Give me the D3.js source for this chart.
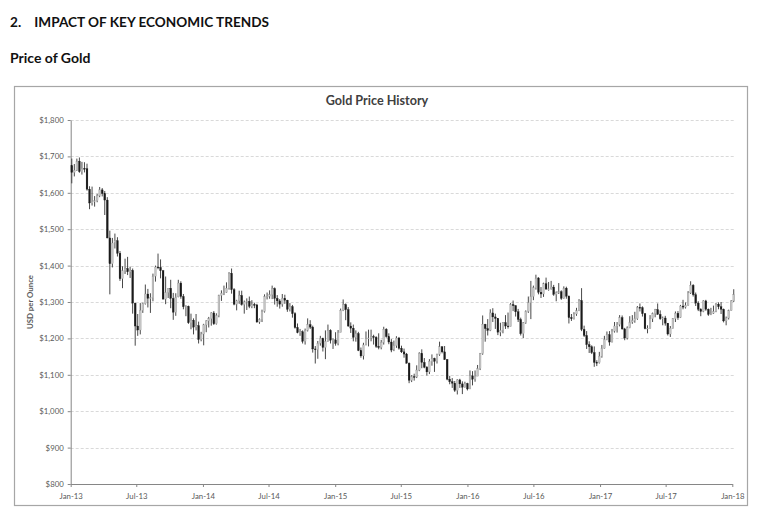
<!DOCTYPE html>
<html>
<head>
<meta charset="utf-8">
<script src="https://cdn.jsdelivr.net/npm/d3@7"></script>
<style>
  body { margin: 0; background: #fff; }
  text { font-family: Lato, "Open Sans", sans-serif; }
</style>
</head>
<body>
<svg id="chart" width="760" height="510"></svg>
<script>
// weekly candles, one row per Friday: [open, high, low, close]
var weeks2013 = [
  [1675,1694,1626,1656],[1656,1679,1645,1662],[1662,1694,1660,1687],[1687,1697,1655,1658],
  [1658,1685,1650,1667],[1667,1684,1656,1666],[1666,1680,1606,1610],[1610,1618,1555,1572],
  [1572,1617,1565,1576],[1576,1591,1562,1578],[1578,1597,1574,1592],[1592,1616,1588,1608],
  [1608,1613,1590,1598],[1598,1605,1539,1580],[1580,1588,1475,1476],[1476,1496,1321,1405],
  [1405,1476,1395,1462],[1462,1488,1447,1468],[1468,1478,1425,1434],[1434,1440,1358,1364],
  [1364,1398,1338,1386],[1386,1419,1377,1392],[1392,1424,1374,1383],[1383,1397,1366,1387],
  [1387,1392,1268,1297],[1297,1298,1180,1234],[1234,1267,1207,1223],[1223,1297,1211,1277],
  [1277,1298,1270,1295],[1295,1348,1293,1322],[1322,1336,1285,1310],[1310,1324,1270,1312],
  [1312,1378,1302,1371],[1371,1400,1356,1396],[1396,1433,1390,1395],[1395,1417,1365,1386],
  [1386,1388,1307,1308],[1308,1370,1294,1326],[1326,1338,1311,1338],[1338,1361,1283,1310],
  [1310,1325,1251,1272],[1272,1324,1262,1314],[1314,1361,1313,1352],[1352,1357,1309,1315],
  [1315,1322,1280,1287],[1287,1291,1261,1288],[1288,1290,1240,1243],[1243,1268,1225,1250],
  [1250,1255,1211,1231],[1231,1267,1222,1235],[1235,1246,1186,1197],[1197,1218,1192,1212]
];
var weeks2014 = [
  [1212,1240,1181,1237],[1237,1250,1217,1248],[1248,1259,1230,1254],[1254,1272,1235,1270],
  [1270,1275,1237,1240],[1240,1269,1238,1263],[1263,1320,1258,1318],[1318,1332,1303,1324],
  [1324,1345,1319,1326],[1326,1354,1325,1338],[1338,1382,1334,1379],[1379,1392,1323,1334],
  [1334,1338,1291,1294],[1294,1306,1277,1303],[1303,1331,1295,1318],[1318,1331,1290,1293],
  [1293,1304,1268,1300],[1300,1310,1278,1302],[1302,1315,1283,1288],[1288,1305,1283,1293],
  [1293,1298,1283,1292],[1292,1295,1243,1245],[1245,1255,1240,1252],[1252,1279,1245,1274],
  [1274,1321,1271,1315],[1315,1326,1307,1316],[1316,1332,1309,1320],[1320,1345,1308,1337],
  [1337,1340,1293,1310],[1310,1319,1287,1303],[1303,1308,1282,1294],[1294,1322,1287,1310],
  [1310,1320,1295,1305],[1305,1306,1273,1280],[1280,1297,1274,1287],[1287,1292,1257,1268],
  [1268,1272,1227,1230],[1230,1241,1214,1216],[1216,1226,1207,1218],[1218,1222,1186,1192],
  [1192,1227,1183,1222],[1222,1255,1219,1238],[1238,1250,1226,1231],[1231,1235,1161,1171],
  [1171,1179,1131,1169],[1169,1193,1144,1187],[1187,1207,1180,1200],[1200,1202,1164,1175],
  [1175,1222,1143,1192],[1192,1238,1191,1222],[1222,1225,1186,1195],[1195,1200,1171,1196]
];
var weeks2015 = [
  [1196,1217,1180,1186],[1186,1223,1181,1216],[1216,1282,1217,1277],[1277,1307,1275,1293],
  [1293,1296,1250,1279],[1279,1286,1232,1234],[1234,1244,1215,1228],[1228,1238,1192,1203],
  [1203,1222,1191,1213],[1213,1218,1165,1167],[1167,1175,1147,1152],[1152,1188,1142,1182],
  [1182,1219,1181,1199],[1199,1224,1178,1201],[1201,1224,1192,1205],[1205,1210,1183,1203],
  [1203,1206,1174,1178],[1178,1214,1170,1175],[1175,1196,1170,1189],[1189,1232,1183,1225],
  [1225,1228,1202,1205],[1205,1214,1184,1190],[1190,1198,1162,1168],[1168,1194,1165,1180],
  [1180,1206,1174,1201],[1201,1204,1169,1173],[1173,1180,1160,1163],[1163,1172,1147,1157],
  [1157,1160,1131,1132],[1132,1134,1077,1085],[1085,1099,1080,1095],[1095,1103,1084,1094],
  [1094,1126,1091,1113],[1113,1162,1110,1159],[1159,1170,1118,1134],[1134,1146,1118,1121],
  [1121,1124,1098,1108],[1108,1143,1102,1137],[1137,1156,1125,1145],[1145,1147,1108,1137],
  [1137,1158,1131,1156],[1156,1191,1152,1177],[1177,1178,1159,1163],[1163,1179,1141,1142],
  [1142,1143,1085,1088],[1088,1097,1074,1081],[1081,1091,1064,1077],[1077,1083,1053,1057],
  [1057,1088,1046,1086],[1086,1089,1064,1075],[1075,1082,1047,1066],[1066,1081,1065,1076]
];
var weeks2016 = [
  [1076,1078,1057,1061],[1061,1112,1062,1097],[1097,1110,1071,1088],[1088,1112,1081,1096],
  [1096,1127,1097,1117],[1117,1160,1113,1158],[1158,1263,1155,1239],[1239,1240,1191,1227],
  [1227,1253,1208,1222],[1222,1280,1220,1270],[1270,1283,1245,1259],[1259,1268,1226,1255],
  [1255,1256,1209,1217],[1217,1243,1206,1222],[1222,1245,1214,1243],[1243,1264,1226,1234],
  [1234,1271,1227,1232],[1232,1297,1233,1293],[1293,1304,1275,1290],[1290,1291,1260,1273],
  [1273,1281,1245,1252],[1252,1257,1208,1213],[1213,1245,1201,1243],[1243,1277,1240,1274],
  [1274,1315,1270,1298],[1298,1358,1253,1315],[1315,1345,1305,1339],[1339,1375,1334,1366],
  [1366,1368,1321,1327],[1327,1341,1311,1322],[1322,1353,1314,1350],[1350,1367,1336,1335],
  [1335,1355,1331,1336],[1336,1358,1334,1341],[1341,1347,1317,1321],[1321,1329,1302,1326],
  [1326,1352,1322,1328],[1328,1332,1306,1310],[1310,1343,1309,1338],[1338,1342,1309,1316],
  [1316,1318,1241,1257],[1257,1267,1248,1254],[1254,1272,1252,1267],[1267,1284,1262,1276],
  [1276,1308,1275,1304],[1304,1338,1220,1225],[1225,1235,1204,1208],[1208,1220,1171,1183],
  [1183,1192,1160,1177],[1177,1181,1157,1161],[1161,1178,1122,1134],[1134,1140,1124,1133],
  [1133,1163,1131,1151]
];
var weeks2017 = [
  [1151,1182,1147,1173],[1173,1207,1172,1197],[1197,1219,1195,1210],[1210,1220,1180,1190],
  [1190,1226,1189,1220],[1220,1245,1216,1234],[1234,1245,1216,1238],[1238,1264,1233,1257],
  [1257,1263,1224,1226],[1226,1229,1195,1201],[1201,1233,1197,1229],[1229,1261,1228,1245],
  [1245,1264,1240,1249],[1249,1273,1243,1254],[1254,1289,1251,1285],[1285,1296,1274,1284],
  [1284,1288,1260,1268],[1268,1269,1225,1227],[1227,1236,1214,1228],[1228,1264,1227,1254],
  [1254,1271,1245,1268],[1268,1281,1258,1279],[1279,1296,1265,1266],[1266,1277,1251,1254],
  [1254,1260,1236,1256],[1256,1262,1235,1242],[1242,1242,1208,1212],[1212,1234,1204,1228],
  [1228,1256,1227,1254],[1254,1274,1245,1269],[1269,1275,1251,1257],[1257,1292,1256,1289],
  [1289,1306,1280,1286],[1286,1299,1282,1291],[1291,1330,1290,1325],[1325,1357,1322,1346],
  [1346,1349,1315,1320],[1320,1326,1289,1297],[1297,1302,1275,1280],[1280,1283,1261,1274],
  [1274,1305,1272,1303],[1303,1306,1276,1280],[1280,1282,1262,1266],[1266,1284,1264,1269],
  [1269,1290,1267,1274],[1274,1297,1272,1294],[1294,1299,1280,1287],[1287,1300,1267,1280],
  [1280,1282,1244,1248],[1248,1260,1236,1256],[1256,1279,1252,1276],[1276,1305,1276,1303]
];
var weeks2018 = [
  [1303,1335,1300,1320]
];

var yTicks = [800, 900, 1000, 1100, 1200, 1300, 1400, 1500, 1600, 1700, 1800];
var xTickLabels = ["Jan-13", "Jul-13", "Jan-14", "Jul-14", "Jan-15", "Jul-15",
                   "Jan-16", "Jul-16", "Jan-17", "Jul-17", "Jan-18"];

function buildCandles() {
  var byYear = [[2013, weeks2013], [2014, weeks2014], [2015, weeks2015],
                [2016, weeks2016], [2017, weeks2017], [2018, weeks2018]];
  var candles = [];
  byYear.forEach(([yr, rows]) => {
    var fridays = d3.timeFriday.range(new Date(yr, 0, 1), new Date(yr + 1, 0, 1));
    rows.forEach((r, i) => {
      candles.push({ date: fridays[i], open: r[0], high: r[1], low: r[2], close: r[3] });
    });
  });
  return candles;
}

function drawChart() {
  var svg = d3.select("#chart");
  var candles = buildCandles();
  var parseTick = d3.timeParse("%b-%y");
  var tickDates = xTickLabels.map(parseTick);

  // page headings
  svg.append("text")
    .attr("x", 10).attr("y", 27)
    .attr("font-size", 13.6).attr("font-weight", "bold").attr("fill", "#111")
    .attr("xml:space", "preserve")
    .text("2.    IMPACT OF KEY ECONOMIC TRENDS");
  svg.append("text")
    .attr("x", 10).attr("y", 63)
    .attr("font-size", 14).attr("font-weight", "bold").attr("fill", "#111")
    .text("Price of Gold");

  // chart frame
  svg.append("rect")
    .attr("x", 14.5).attr("y", 86.5)
    .attr("width", 733).attr("height", 419)
    .attr("fill", "#fff").attr("stroke", "#a6a6a6").attr("stroke-width", 1.2);

  svg.append("text")
    .attr("x", 377).attr("y", 105)
    .attr("text-anchor", "middle")
    .attr("font-size", 12.6).attr("font-weight", "bold").attr("fill", "#404040")
    .text("Gold Price History");

  var x = d3.scaleTime()
    .domain([tickDates[0], tickDates[tickDates.length - 1]])
    .range([70.7, 732.3]);
  var y = d3.scaleLinear()
    .domain([yTicks[0], yTicks[yTicks.length - 1]])
    .range([484, 120]);

  // dashed gridlines
  svg.append("g")
    .selectAll("line")
    .data(yTicks.slice(1))
    .join("line")
    .attr("x1", x.range()[0]).attr("x2", 735)
    .attr("y1", d => Math.round(y(d)) + 0.5).attr("y2", d => Math.round(y(d)) + 0.5)
    .attr("stroke", "#d9d9d9").attr("stroke-dasharray", "3,2");

  // axes
  var yAxis = svg.append("g")
    .attr("transform", "translate(" + x.range()[0] + ",0)")
    .call(d3.axisLeft(y).tickValues(yTicks).tickFormat(d3.format("$,")).tickSize(3).tickSizeOuter(0));
  var xAxis = svg.append("g")
    .attr("transform", "translate(0," + y.range()[0] + ")")
    .call(d3.axisBottom(x).tickValues(tickDates).tickFormat((d, i) => xTickLabels[i]).tickSize(3).tickSizeOuter(0));

  [yAxis, xAxis].forEach(g => {
    g.selectAll("path, line").attr("stroke", "#868686");
    g.selectAll("text").attr("fill", "#595959").attr("font-size", 7.8)
      .style("font-family", "Lato, sans-serif");
  });
  yAxis.selectAll("text").attr("x", -7);
  xAxis.selectAll("text").attr("y", 9);

  svg.append("text")
    .attr("transform", "translate(33,302) rotate(-90)")
    .attr("text-anchor", "middle")
    .attr("font-size", 7.8).attr("font-weight", "bold").attr("fill", "#595959")
    .text("USD per Ounce");

  // candles
  var bodyW = 1.8;
  var g = svg.append("g");
  g.selectAll("line.wick")
    .data(candles)
    .join("line")
    .attr("class", "wick")
    .attr("x1", d => x(d.date)).attr("x2", d => x(d.date))
    .attr("y1", d => y(d.high)).attr("y2", d => y(d.low))
    .attr("stroke", "#333").attr("stroke-width", 0.9);

  g.selectAll("rect.body")
    .data(candles)
    .join("rect")
    .attr("class", "body")
    .attr("x", d => x(d.date) - bodyW / 2)
    .attr("width", bodyW)
    .attr("y", d => y(Math.max(d.open, d.close)))
    .attr("height", d => Math.max(0.8, Math.abs(y(d.open) - y(d.close))))
    .attr("fill", d => d.close >= d.open ? "#c4c4c4" : "#1a1a1a")
    .attr("stroke", d => d.close >= d.open ? "#9a9a9a" : "#1a1a1a")
    .attr("stroke-width", 0.3);
}

drawChart();
</script>
</body>
</html>
